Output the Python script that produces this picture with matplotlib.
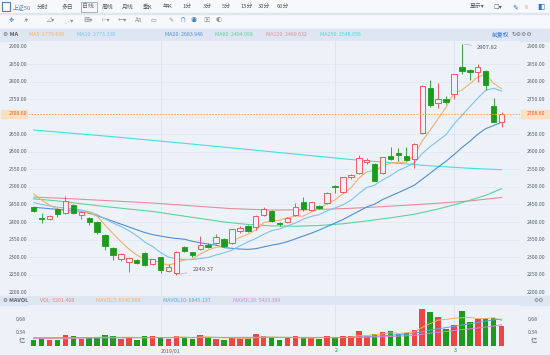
import matplotlib
matplotlib.use("Agg")
import matplotlib.pyplot as plt
from matplotlib.patches import Rectangle

plt.rcParams['font.family'] = ['Noto Sans CJK SC', 'DejaVu Sans']

# ---------------- data ----------------
opens = [2442, 2411, 2408, 2438, 2425, 2448, 2420, 2410, 2401, 2363,
         2326, 2294, 2287, 2293, 2313, 2280, 2299, 2261, 2254, 2330,
         2314, 2322, 2335, 2339, 2351, 2339, 2374, 2389, 2385, 2420,
         2431, 2398, 2401, 2420, 2456, 2434, 2446, 2453, 2503, 2486,
         2529, 2539, 2572, 2565, 2540, 2588, 2597, 2588, 2579, 2653,
         2781, 2738, 2750, 2765, 2841, 2833, 2826, 2831, 2731, 2686]
highs = [2444, 2425, 2419, 2440, 2474, 2450, 2430, 2413, 2403, 2365,
         2328, 2311, 2300, 2295, 2315, 2296, 2301, 2280, 2317, 2333,
         2315, 2360, 2339, 2365, 2353, 2381, 2389, 2391, 2420, 2444,
         2433, 2400, 2414, 2455, 2470, 2458, 2448, 2485, 2504, 2529,
         2537, 2590, 2582, 2567, 2586, 2615, 2611, 2615, 2624, 2790,
         2805, 2795, 2760, 2823, 2907.82, 2835, 2850, 2833, 2752, 2712]
lows = [2429, 2398, 2406, 2415, 2423, 2422, 2408, 2392, 2366, 2320,
        2292, 2290, 2258, 2280, 2275, 2278, 2255, 2257, 2249.37, 2314,
        2300, 2320, 2325, 2337, 2330, 2337, 2368, 2372, 2378, 2418,
        2400, 2390, 2396, 2418, 2430, 2430, 2438, 2450, 2482, 2484,
        2523, 2537, 2566, 2516, 2538, 2577, 2575, 2575, 2553, 2651,
        2728, 2725, 2735, 2750, 2821, 2805, 2800, 2776, 2684, 2672]
closes = [2431, 2408, 2417, 2422, 2460, 2425, 2428, 2399, 2371, 2333,
          2306, 2309, 2298, 2282, 2277, 2294, 2263, 2271, 2315, 2316,
          2306, 2335, 2328, 2356, 2332, 2379, 2384, 2374, 2418, 2436,
          2403, 2393, 2412, 2442, 2437, 2456, 2441, 2483, 2499, 2527,
          2534, 2581, 2576, 2518, 2584, 2579, 2591, 2577, 2622, 2788,
          2733, 2750, 2743, 2821, 2831, 2827, 2841, 2790, 2686, 2708.6]
volumes = [0.153, 0.179, 0.145, 0.153, 0.281, 0.256, 0.179, 0.204, 0.196, 0.273,
           0.247, 0.187, 0.222, 0.153, 0.256, 0.256, 0.204, 0.179, 0.256, 0.238,
           0.179, 0.290, 0.213, 0.179, 0.162, 0.204, 0.204, 0.196, 0.298, 0.256,
           0.204, 0.153, 0.196, 0.256, 0.222, 0.196, 0.179, 0.247, 0.204, 0.247,
           0.247, 0.383, 0.256, 0.298, 0.366, 0.383, 0.307, 0.341, 0.409, 0.946,
           0.860, 0.750, 0.443, 0.537, 0.903, 0.605, 0.682, 0.716, 0.707, 0.519]

ma5 = [2480, 2462, 2448, 2437, 2431, 2427, 2430, 2427, 2417, 2391,
       2367, 2344, 2323, 2306, 2294, 2292, 2283, 2277, 2284, 2292,
       2294, 2309, 2320, 2328, 2331, 2346, 2356, 2365, 2377, 2398,
       2403, 2405, 2412, 2417, 2417, 2428, 2438, 2452, 2463, 2481,
       2497, 2525, 2543, 2547, 2559, 2568, 2570, 2570, 2591, 2631,
       2662, 2694, 2727, 2767, 2776, 2794, 2813, 2822, 2795, 2780]
ma10 = [2455, 2450, 2446, 2442, 2440, 2437, 2434, 2429, 2421, 2409,
        2397, 2387, 2375, 2361, 2343, 2330, 2313, 2300, 2295, 2293,
        2293, 2296, 2299, 2306, 2312, 2320, 2332, 2343, 2353, 2365,
        2375, 2380, 2389, 2397, 2408, 2416, 2421, 2432, 2440, 2449,
        2462, 2481, 2498, 2505, 2520, 2532, 2547, 2557, 2569, 2595,
        2615, 2632, 2649, 2679, 2704, 2728, 2753, 2775, 2781, 2773]
ma20 = [2442, 2440, 2438, 2436, 2435, 2433, 2430, 2425, 2418, 2410,
        2402, 2394, 2386, 2378, 2370, 2364, 2360, 2356, 2353, 2351,
        2345, 2341, 2337, 2334, 2327, 2325, 2323, 2322, 2324, 2329,
        2334, 2338, 2344, 2352, 2360, 2368, 2377, 2387, 2397, 2407,
        2419, 2431, 2443, 2451, 2464, 2474, 2484, 2494, 2505, 2522,
        2539, 2557, 2573, 2592, 2612, 2630, 2650, 2666, 2675, 2684]
ma60_x = [0, 3, 6, 9, 12, 15, 18, 21, 24, 27, 30, 33, 36, 39, 42, 45, 48, 51, 54, 57, 59]
ma60 = [2466, 2460, 2452, 2444, 2437, 2430, 2420, 2410, 2400, 2393, 2389, 2388,
        2390, 2395, 2403, 2412, 2422, 2437, 2455, 2476, 2495]
ma120_x = [0, 5, 10, 15, 20, 25, 30, 35, 40, 45, 50, 55, 59]
ma120 = [2471, 2466, 2460, 2454, 2446, 2438, 2434, 2435, 2439, 2445, 2452, 2460, 2470]
ma250_x = [0, 10, 20, 30, 40, 50, 55, 59]
ma250 = [2662, 2643, 2622, 2600, 2578, 2560, 2553, 2549]

mavol5 = [0.19, 0.19, 0.19, 0.19, 0.182, 0.203, 0.203, 0.215, 0.223, 0.222,
          0.22, 0.221, 0.225, 0.216, 0.213, 0.215, 0.218, 0.21, 0.23, 0.227,
          0.211, 0.228, 0.235, 0.22, 0.205, 0.21, 0.192, 0.189, 0.213, 0.232,
          0.232, 0.221, 0.221, 0.213, 0.206, 0.205, 0.21, 0.22, 0.21, 0.215,
          0.225, 0.266, 0.267, 0.286, 0.31, 0.337, 0.322, 0.339, 0.361, 0.477,
          0.573, 0.661, 0.682, 0.707, 0.72, 0.73, 0.70, 0.70, 0.723, 0.654]
mavol10_x = [0, 10, 20, 30, 40, 44, 48, 50, 52, 54, 56, 58, 59]
mavol10 = [0.21, 0.215, 0.22, 0.22, 0.215, 0.26, 0.32, 0.41, 0.47, 0.535, 0.6, 0.67, 0.685]
mavol20_x = [0, 10, 20, 30, 40, 44, 48, 50, 52, 54, 56, 58, 59]
mavol20 = [0.2, 0.21, 0.215, 0.22, 0.22, 0.235, 0.27, 0.33, 0.37, 0.42, 0.46, 0.51, 0.543]

price_ticks = [2900, 2850, 2800, 2750, 2650, 2600, 2550, 2500, 2450,
               2400, 2350, 2300, 2250, 2200]
grid_levels = [2850, 2800, 2750, 2700, 2650, 2600, 2550, 2500, 2450,
               2400, 2350, 2300, 2250]
vol_ticks = [0.68, 0.34]
date_pos = [16, 38, 53]
date_labels = ["2019/01", "2", "3"]
last_price = 2708.60
hi_idx, lo_idx = 54, 18

tabs = ["上证50", "分时", "多日", "日线", "周线", "月线", "季K", "年K",
        "1分", "3分", "5分", "15分", "30分", "60分"]
tab_x = [13, 37, 62, 82, 102, 122, 143, 163, 182, 203, 222, 240, 258, 277]
ma_names = ["MA5: 2779.698", "MA10: 2773.330", "MA20: 2683.946",
            "MA60: 2494.698", "MA120: 2469.632", "MA250: 2548.056"]
vol_names = ["VOL: 5201.408", "MAVOL5: 6540.868", "MAVOL10: 6845.137",
             "MAVOL20: 5433.389"]

# ---------------- styling ----------------
W, H = 550, 355
BG = '#edf2f9'
RED = '#ee4444'
GREEN = '#1c9b1c'
C_MA5, C_MA10, C_MA20 = '#f4b06a', '#7cc3ec', '#4f8fd6'
C_MA60, C_MA120, C_MA250 = '#5fd29a', '#e88c98', '#45dde0'
C_MV5, C_MV10, C_MV20 = '#f4b06a', '#5fa8e0', '#d28ad6'
TXT = '#555d66'

fig = plt.figure(figsize=(W / 100, H / 100), dpi=100, facecolor=BG)


def px_axes(x0, y0, x1, y1, **kw):
    return fig.add_axes([x0 / W, 1 - y1 / H, (x1 - x0) / W, (y1 - y0) / H], **kw)


def ftext(x, y, s, **kw):
    kw.setdefault('fontsize', 4)
    kw.setdefault('va', 'center')
    fig.text(x / W, 1 - y / H, s, **kw)


# background bands
band = px_axes(0, 0, W, H)
band.set_xlim(0, W)
band.set_ylim(H, 0)
band.axis('off')
band.add_patch(Rectangle((0, 0), W, 27, color='#f6f8fb', zorder=0))
band.add_patch(Rectangle((0, 13), W, 0.6, color='#dfe6ee', zorder=1))
band.add_patch(Rectangle((0, 29), W, 12, color='#dde6f1', zorder=0))
band.add_patch(Rectangle((0, 296), W, 9, color='#dde6f1', zorder=0))
band.add_patch(Rectangle((81, 2), 16, 10, fill=False, ec='#9aa8b8', lw=0.6))
band.add_patch(Rectangle((2, 2), 8, 9, fill=False, ec='#4a7fc0', lw=0.8))

# toolbar texts
for t, x in zip(tabs, tab_x):
    ftext(x, 7, t, color='#4a7fc0' if t == "上证50" else '#555d66', fontsize=4.2)
ftext(470, 7, "显示▾", color='#555d66', fontsize=4.2)
ftext(493, 7, "☐▾", color='#555d66', fontsize=4.5)
ftext(512, 7, "✎", color='#2f6fd0', fontsize=5)
ftext(524, 7, "⁞⁞", color='#6a7480', fontsize=4.5)
ftext(537, 7, "◧", color='#2f6fd0', fontsize=5.5)
icons = ["✥", "⁄▾", "⊿▾", "⋰▾", "▦▾", "⊢▾", "←▾", "Aa", "▭", "✎", "∩", "◉", "▣", "◐"]
icon_x = [9, 24, 45, 64, 83, 101, 118, 135, 150, 168, 180, 191, 203, 216]
for s, x in zip(icons, icon_x):
    ftext(x, 20, s, color='#4a7fc0' if s in ("✥", "∩", "◉") else '#8a949e', fontsize=4.5)

# MA header
ftext(3, 35, "⚙ MA", color='#555d66', fontsize=4.2, fontweight='bold')
for name, x, c in zip(ma_names, [29, 77, 165, 215, 266, 320],
                      [C_MA5, C_MA10, C_MA20, C_MA60, C_MA120, C_MA250]):
    ftext(x, 35, name, color=c, fontsize=3.8)
ftext(492, 35, "前复权", color='#2f6fd0', fontsize=4.2)
ftext(512, 35, "↻⚙⚙⚙", color='#6a7480', fontsize=4.2)

# volume header
ftext(3, 300.5, "⚙ MAVOL", color='#555d66', fontsize=4.0, fontweight='bold')
for name, x, c in zip(vol_names, [40, 96, 163, 233], ['#f08080', C_MV5, C_MV10, C_MV20]):
    ftext(x, 300.5, name, color=c, fontsize=3.8)
ftext(533, 300.5, "⚙⚙", color='#6a7480', fontsize=4.2)

# ---------------- main price axes ----------------
X0, X1 = 28, 520
ax = px_axes(X0, 41, X1, 296)
ax.set_facecolor(BG)
ax.set_xlim((X0 - 33.7) / 7.93, (X1 - 33.7) / 7.93)
ax.set_ylim(2900 - (296 - 46.5) / 0.351, 2900 + (46.5 - 41) / 0.351)
for s in ax.spines.values():
    s.set_visible(False)
ax.set_xticks([])
ax.set_yticks([])
for p in grid_levels:
    ax.axhline(p, color='#e2e9f2', lw=0.6, zorder=0)
for d in date_pos:
    ax.axvline(d, color='#dbe3ee', lw=0.6, zorder=0)

n = len(closes)
xs = list(range(n))
for i in xs:
    o, h, l, c = opens[i], highs[i], lows[i], closes[i]
    up = c >= o
    col = RED if up else GREEN
    lo_b, hi_b = min(o, c), max(o, c)
    ax.vlines(i, hi_b, h, color=col, lw=0.6, zorder=3)
    ax.vlines(i, l, lo_b, color=col, lw=0.6, zorder=3)
    ax.bar(i, max(hi_b - lo_b, 0.8), bottom=lo_b, width=0.68,
           facecolor=BG if up else GREEN, edgecolor=col, lw=0.6, zorder=4)

ax.plot(ma250_x, ma250, color=C_MA250, lw=0.8, zorder=2)
ax.plot(ma120_x, ma120, color=C_MA120, lw=0.8, zorder=2)
ax.plot(ma60_x, ma60, color=C_MA60, lw=0.8, zorder=2)
ax.plot(xs, ma20, color=C_MA20, lw=0.8, zorder=2)
ax.plot(xs, ma10, color=C_MA10, lw=0.8, zorder=2)
ax.plot(xs, ma5, color=C_MA5, lw=0.8, zorder=2)

ax.axhline(last_price, color='#f0a060', lw=0.6, ls=(0, (2, 1.5)), zorder=5)

# high / low annotations
ax.annotate(f"{highs[hi_idx]:.2f}", xy=(hi_idx, highs[hi_idx]),
            xytext=(hi_idx + 1.9, highs[hi_idx] - 12), fontsize=4.2, color='#555d66',
            va='center', ha='left',
            arrowprops=dict(arrowstyle='-', color='#b0b8c2', lw=0.5))
ax.annotate(f"{lows[lo_idx]:.2f}", xy=(lo_idx, lows[lo_idx]),
            xytext=(lo_idx + 2.0, lows[lo_idx] + 15), fontsize=4.2, color='#555d66',
            va='center', ha='left',
            arrowprops=dict(arrowstyle='-', color='#b0b8c2', lw=0.5))


def y_of(v):
    return 46.5 + (2900 - v) * 0.351


for p in price_ticks:
    ftext(545, y_of(p), f"{p:.2f}", color=TXT, fontsize=3.7, ha='right')
    ftext(27, y_of(p), f"{p:.2f}", color=TXT, fontsize=3.7, ha='right')

# last price tags
yl = y_of(last_price)
band.add_patch(Rectangle((521, yl - 4), 28, 8, color='#fde0bd', zorder=2))
band.add_patch(Rectangle((1, yl - 4), 27, 8, color='#fde0bd', zorder=2))
ftext(545, yl, f"{last_price:.2f}", color='#e0602a', fontsize=3.7, ha='right', zorder=3)
ftext(27, yl, f"{last_price:.2f}", color='#e0602a', fontsize=3.7, ha='right', zorder=3)

# ---------------- volume axes ----------------
vax = px_axes(X0, 305, X1, 348)
vax.set_facecolor(BG)
vax.set_xlim(ax.get_xlim())
vax.set_ylim((346 - 348) * 0.02556, (346 - 305) * 0.02556)
for s in vax.spines.values():
    s.set_visible(False)
vax.set_xticks([])
vax.set_yticks([])
for d in date_pos:
    vax.axvline(d, color='#dbe3ee', lw=0.6, zorder=0)
vcols = [RED if closes[i] >= opens[i] else GREEN for i in xs]
vax.bar(xs, volumes, width=0.7, color=vcols, zorder=2)
vax.plot(xs, mavol5, color=C_MV5, lw=0.7, zorder=3)
vax.plot(mavol10_x, mavol10, color=C_MV10, lw=0.7, zorder=3)
vax.plot(mavol20_x, mavol20, color=C_MV20, lw=0.7, zorder=3)


def yv(v):
    return 346 - v / 0.02556


for v in vol_ticks:
    ftext(26, yv(v), f"{v:.2f}", color=TXT, fontsize=3.7, ha='right')
    ftext(538, yv(v), f"{v:.2f}", color=TXT, fontsize=3.7, ha='right')
ftext(25, 341, "亿", color=TXT, fontsize=4.5, ha='right')
ftext(537, 341, "亿", color=TXT, fontsize=4.5, ha='right')

for d, lab in zip(date_pos, date_labels):
    ftext(33.7 + 7.93 * d, 351, lab, color=TXT, fontsize=3.8, ha='left')

fig.savefig("out.png", dpi=100, facecolor=BG)
